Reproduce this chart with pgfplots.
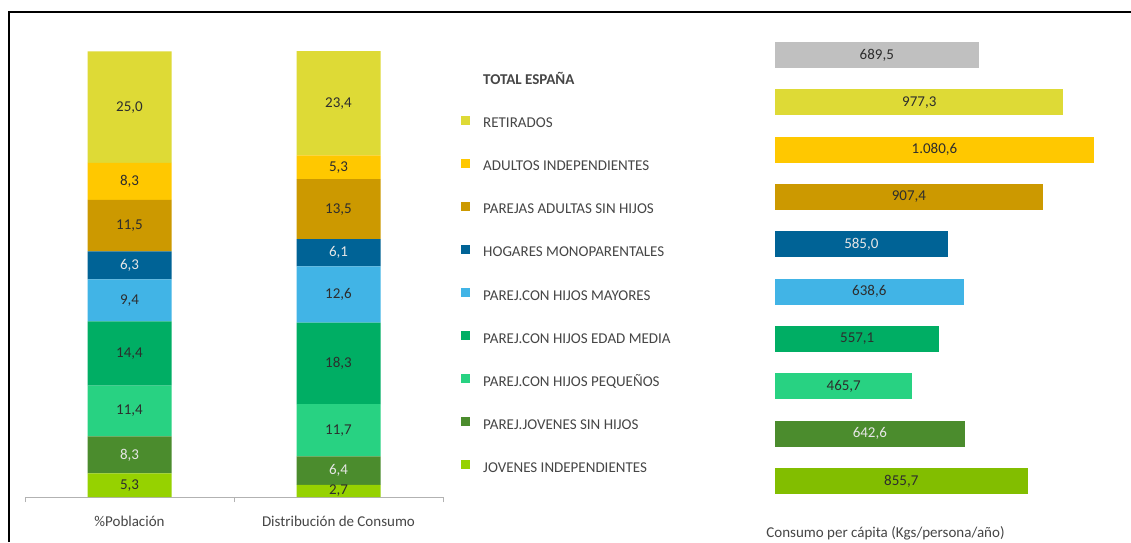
\documentclass[border=0pt]{standalone}
\usepackage{fontspec}
\setmainfont{Carlito}
\usepackage{pgfplots}
\pgfplotsset{compat=1.18}

\definecolor{cRet}{RGB}{222,218,54}
\definecolor{cAdu}{RGB}{255,200,0}
\definecolor{cPAd}{RGB}{204,153,0}
\definecolor{cMon}{RGB}{0,99,150}
\definecolor{cMay}{RGB}{65,180,230}
\definecolor{cMed}{RGB}{0,174,100}
\definecolor{cPeq}{RGB}{40,210,130}
\definecolor{cPJo}{RGB}{75,140,45}
\definecolor{cJov}{RGB}{150,210,0}
\definecolor{cJov2}{RGB}{130,190,0}
\definecolor{cTot}{RGB}{192,192,192}
\definecolor{txtdark}{RGB}{45,45,45}
\definecolor{txtlight}{RGB}{230,230,230}
\definecolor{txtgray}{RGB}{70,70,70}

\newcommand{\vfont}{\fontsize{15}{18}\selectfont}

\pgfplotsset{
  seg/.style 2 args={fill=#1, draw=none,
    every node near coord/.append style={text=#2}},
  hb/.style 2 args={fill=#1, draw=none, bar shift=0pt,
    every node near coord/.append style={text=#2}},
  valfmt/.style={nodes near coords={\pgfmathprintnumber[fixed,fixed zerofill,precision=1,use comma,assume math mode=true]{\pgfplotspointmeta}}},
}

\begin{document}
\begin{tikzpicture}[x=1pt,y=1pt]
\useasboundingbox (0,0) rectangle (1131,542);
\fill[white] (0,0) rectangle (1131,542);
\draw[line width=2.2pt] (9,0) -- (9,530) -- (1131,530);

% left: stacked shares
\begin{axis}[
  at={(25pt,45pt)}, anchor=south west,
  scale only axis, width=418pt, height=446pt,
  ybar stacked, bar width=84pt,
  xmin=-0.5, xmax=1.5, ymin=0, ymax=100,
  axis x line*=bottom, axis y line=none,
  x axis line style={draw=gray!60, line width=1pt},
  xtick={0,1}, xticklabels={\%Población, Distribución de Consumo},
  major tick length=0pt,
  minor xtick={-0.5,0.5,1.5}, minor tick length=5pt, tick align=outside,
  minor x tick style={draw=gray!60, line width=1pt},
  x tick label style={font=\vfont, text=txtgray, yshift=-16pt},
  clip=false,
  valfmt,
  nodes near coords align=center,
  every node near coord/.append style={font=\vfont, anchor=center},
  legend image code/.code={\fill[#1,draw=none] (0pt,0pt) rectangle (9pt,9pt);},
  reverse legend,
  legend cell align=left,
  legend style={at={(axis description cs:1.0431,0.946)}, anchor=north west,
    draw=none, fill=none, inner sep=0pt, font=\vfont, text=txtgray,
    row sep=27.8pt,
    /tikz/every odd column/.append style={column sep=13pt},
    nodes={inner sep=0pt, text height=9.5pt, text depth=3pt}},
]
\addplot[seg={cJov}{txtdark}] table {x y
0 5.3
1 2.7
};
\addlegendentry{JOVENES INDEPENDIENTES}
\addplot[seg={cPJo}{txtlight}] table {x y
0 8.3
1 6.4
};
\addlegendentry{PAREJ.JOVENES SIN HIJOS}
\addplot[seg={cPeq}{txtdark}] table {x y
0 11.4
1 11.7
};
\addlegendentry{PAREJ.CON HIJOS PEQUEÑOS}
\addplot[seg={cMed}{txtdark}] table {x y
0 14.4
1 18.3
};
\addlegendentry{PAREJ.CON HIJOS EDAD MEDIA}
\addplot[seg={cMay}{txtdark}] table {x y
0 9.4
1 12.6
};
\addlegendentry{PAREJ.CON HIJOS MAYORES}
\addplot[seg={cMon}{txtlight}] table {x y
0 6.3
1 6.1
};
\addlegendentry{HOGARES MONOPARENTALES}
\addplot[seg={cPAd}{txtdark}] table {x y
0 11.5
1 13.5
};
\addlegendentry{PAREJAS ADULTAS SIN HIJOS}
\addplot[seg={cAdu}{txtdark}] table {x y
0 8.3
1 5.3
};
\addlegendentry{ADULTOS INDEPENDIENTES}
\addplot[seg={cRet}{txtdark}] table {x y
0 25.0
1 23.4
};
\addlegendentry{RETIRADOS}
\addlegendimage{empty legend}
\addlegendentry{\textbf{TOTAL ESPAÑA}}
\end{axis}

% right: consumption per capita
\begin{axis}[
  at={(775pt,37.3pt)}, anchor=south west,
  scale only axis, width=324.7pt, height=473.3pt,
  xbar, bar width=26pt,
  xmin=0, xmax=1100, ymin=-0.5, ymax=9.5, y dir=reverse,
  axis lines=none, clip=false,
  valfmt, point meta=x,
  nodes near coords align=center,
  visualization depends on=rawx \as \rawx,
  every node near coord/.append style={font=\vfont, anchor=center, xshift=-0.14759*\rawx},
]
\addplot[hb={cTot}{txtdark}] coordinates {(689.5,0)};
\addplot[hb={cRet}{txtdark}] coordinates {(977.3,1)};
\addplot[hb={cAdu}{txtdark}] coordinates {(1080.6,2)};
\addplot[hb={cPAd}{txtdark}] coordinates {(907.4,3)};
\addplot[hb={cMon}{txtlight}] coordinates {(585.0,4)};
\addplot[hb={cMay}{txtdark}] coordinates {(638.6,5)};
\addplot[hb={cMed}{txtdark}] coordinates {(557.1,6)};
\addplot[hb={cPeq}{txtdark}] coordinates {(465.7,7)};
\addplot[hb={cPJo}{txtlight}] coordinates {(642.6,8)};
\addplot[hb={cJov2}{txtdark}] coordinates {(855.7,9)};
\end{axis}

\node[font=\vfont, text=txtgray] at (885.5,9) {Consumo per cápita (Kgs/persona/año)};
\end{tikzpicture}
\end{document}
